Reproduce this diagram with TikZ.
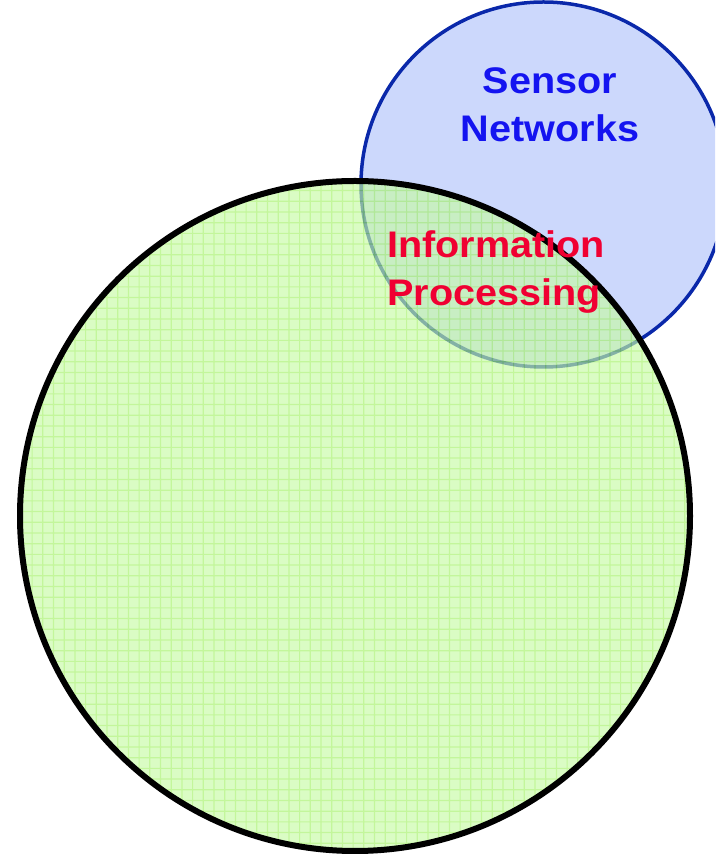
\documentclass[tikz,border=0pt]{standalone}
\usepackage{fontspec}
\newfontfamily\vennfont[FakeStretch=1.07]{Liberation Sans}

\definecolor{sensorfill}{RGB}{204,216,252}
\definecolor{sensorline}{RGB}{10,40,170}
\definecolor{procfill}{RGB}{198,251,165}
\definecolor{procgrid}{RGB}{163,241,101}
\definecolor{sensortext}{RGB}{20,20,240}
\definecolor{proctext}{RGB}{240,0,50}

\tikzset{
  vennlabel/.style={inner sep=0pt, font=\vennfont\bfseries\fontsize{37}{48}\selectfont}
}

\begin{document}
\begin{tikzpicture}[x=1pt,y=1pt]
\useasboundingbox (0,0) rectangle (715,854);
\clip (0,0) rectangle (715,854);
\coordinate (G) at (355, 338);
\coordinate (S) at (543.5, 669.5);

% sensor networks disc
\fill [sensorfill] (S) circle (182.5);
\draw [line width=3.5pt, sensorline] (S) circle (182.5);

% information processing disc, gridded and see-through
\begin{scope}[transparency group, opacity=0.65]
\fill [procfill] (G) circle (335);
\clip (G) circle (335);
\draw [procgrid, line width=1.2pt, step=10.7] (0,0) grid (715,854);
\end{scope}
\draw [line width=6pt] (G) circle (335);

% base anchor sits on the last line
\node [vennlabel, sensortext, align=center, anchor=base] (sensor) at (550, 712) {Sensor\\Networks};
\node [vennlabel, proctext, align=left, anchor=base west] (proc) at (387, 548) {Information\\Processing};

\end{tikzpicture}
\end{document}
